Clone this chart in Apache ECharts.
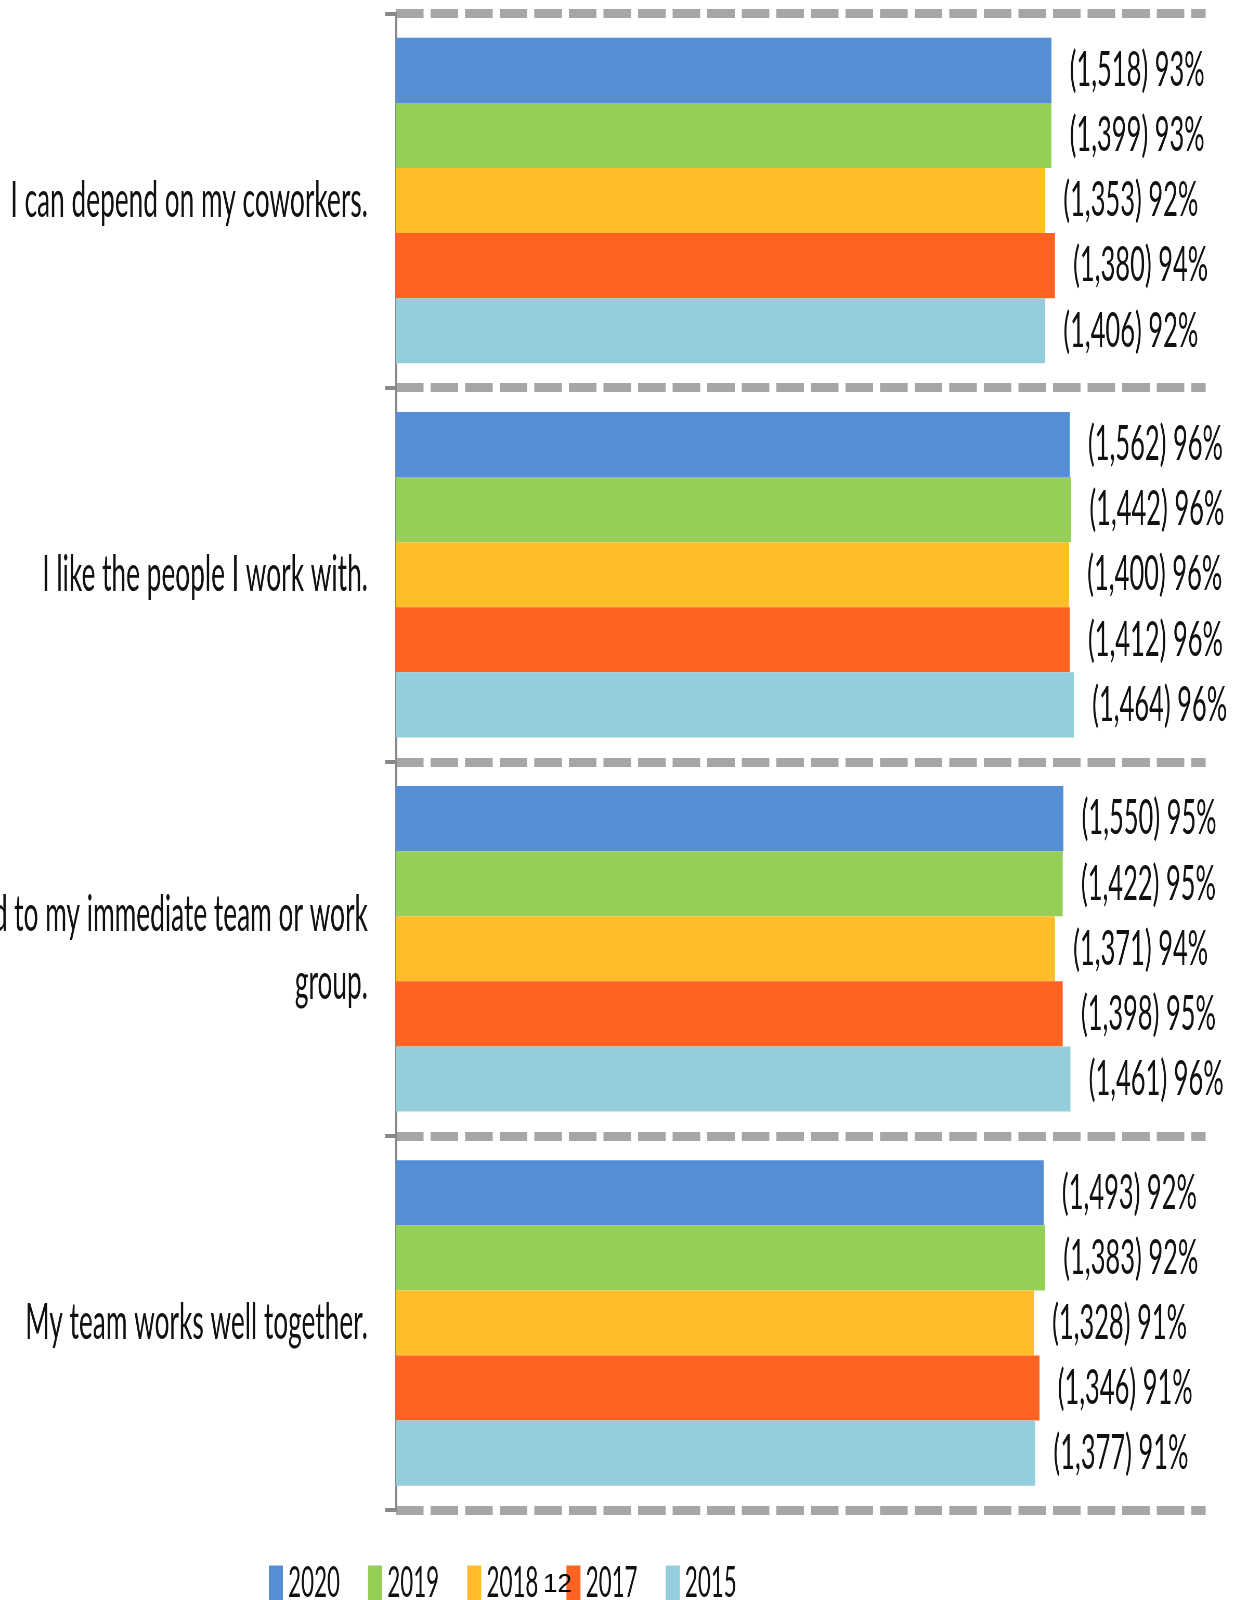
<!DOCTYPE html>
<html>
<head>
<meta charset="utf-8">
<script src="https://cdn.jsdelivr.net/npm/echarts@6/dist/echarts.min.js"></script>
<style>
  html, body { margin: 0; padding: 0; background: #fff; overflow: hidden; }
  /* the original chart is squeezed sideways, so draw wide and squash */
  #chart { width: 2392px; height: 1600px; transform: scaleX(0.52); transform-origin: 0 0; }
</style>
</head>
<body>
<div id="chart"></div>
<script>
var SX = 0.52;

var categories = [
  'I can depend on my coworkers.',
  'I like the people I work with.',
  'I feel connected to my immediate team or work\ngroup.',
  'My team works well together.'
];
var years = ['2020', '2019', '2018', '2017', '2015'];
var colors = ['#558ed5', '#95cf58', '#ffbd2b', '#fe6321', '#94cddc'];

// bar lengths (percent agree), per year, per category
var v2020 = [93.1, 95.7, 94.8, 92.0];
var v2019 = [93.1, 95.9, 94.7, 92.2];
var v2018 = [92.2, 95.6, 93.6, 90.6];
var v2017 = [93.6, 95.7, 94.7, 91.4];
var v2015 = [92.2, 96.3, 95.8, 90.8];

// respondent counts shown in the labels
var n2020 = [1518, 1562, 1550, 1493];
var n2019 = [1399, 1442, 1422, 1383];
var n2018 = [1353, 1400, 1371, 1328];
var n2017 = [1380, 1412, 1398, 1346];
var n2015 = [1406, 1464, 1461, 1377];

// percentages printed in the labels
var p2020 = [93, 96, 95, 92];
var p2019 = [93, 96, 95, 92];
var p2018 = [92, 96, 94, 91];
var p2017 = [94, 96, 95, 91];
var p2015 = [92, 96, 96, 91];

var values = [v2020, v2019, v2018, v2017, v2015];
var counts = [n2020, n2019, n2018, n2017, n2015];
var pcts = [p2020, p2019, p2018, p2017, p2015];

var font = 'Lato, "Open Sans", sans-serif';

var chart = echarts.init(document.getElementById('chart'));

var series = years.map(function (y, s) {
  return {
    name: y,
    type: 'bar',
    data: values[s],
    barGap: '0%',
    barCategoryGap: '13%',
    itemStyle: { color: colors[s] },
    label: {
      show: true,
      position: 'right',
      distance: 35,
      fontFamily: font,
      fontSize: 49,
      color: '#111',
      formatter: function (p) {
        return '(' + counts[s][p.dataIndex].toLocaleString('en-US') + ') ' + pcts[s][p.dataIndex] + '%';
      }
    }
  };
});

var option = {
  animation: false,
  color: colors,
  grid: {
    left: 761.5,
    top: 13.5,
    width: 1557,
    bottom: 90,
    containLabel: false,
    outerBoundsMode: 'none'
  },
  xAxis: {
    type: 'value',
    min: 0,
    max: 115,
    show: false
  },
  yAxis: {
    type: 'category',
    inverse: true,
    data: categories,
    axisLine: { show: true, lineStyle: { color: '#898989', width: 4 } },
    axisTick: { show: true, length: 21, lineStyle: { color: '#898989', width: 4 } },
    splitLine: {
      show: true,
      lineStyle: { color: '#a6a6a6', width: 9, type: [53, 13.5] }
    },
    axisLabel: {
      margin: 54,
      fontFamily: font,
      fontSize: 50.5,
      lineHeight: 68,
      color: '#111',
      align: 'right'
    }
  },
  legend: {
    data: years,
    left: 517,
    top: 1562,
    padding: 0,
    itemWidth: 27,
    itemHeight: 36,
    itemGap: 54,
    icon: 'rect',
    textStyle: {
      fontFamily: font,
      fontSize: 43,
      color: '#111',
      width: 100,
      padding: [0, 0, 0, 5]
    }
  },
  graphic: [{
    type: 'text',
    x: 543 / SX,
    y: 1572,
    z: 100,
    scaleX: 1 / SX,
    style: {
      text: '12',
      fontFamily: '"Liberation Sans", Arial, sans-serif',
      fontSize: 26,
      fill: '#000',
      verticalAlign: 'top'
    }
  }],
  series: series
};

chart.setOption(option);
</script>
</body>
</html>
